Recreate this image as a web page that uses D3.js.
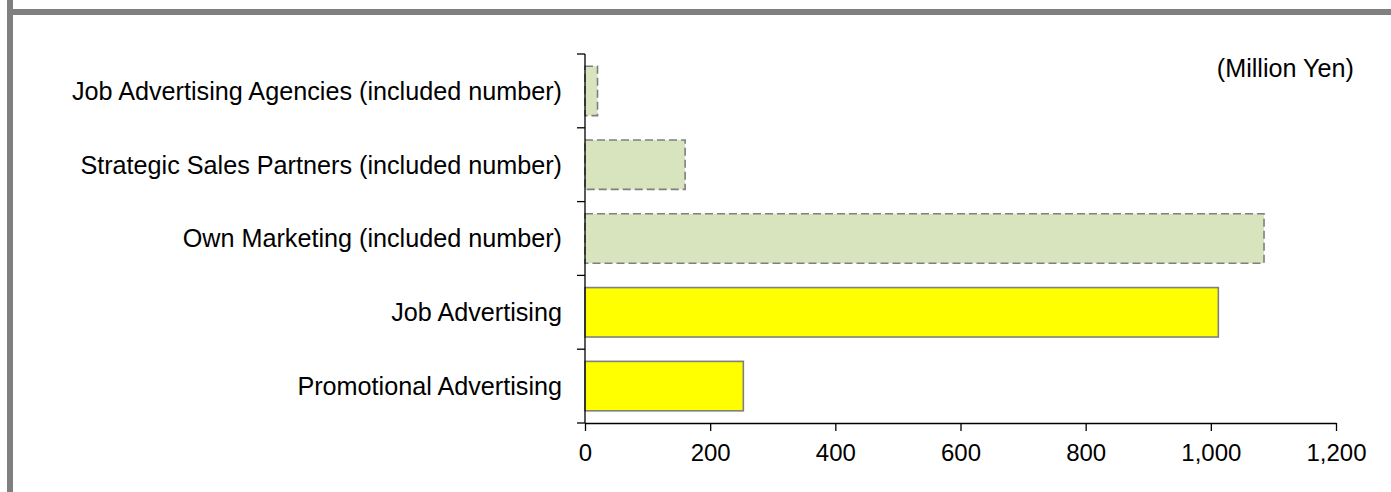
<!DOCTYPE html>
<html>
<head>
<meta charset="utf-8">
<script src="https://cdn.jsdelivr.net/npm/d3@7"></script>
<style>
  body { margin: 0; background: #fff; }
  svg text { font-family: Arial, "Liberation Sans", sans-serif; fill: #000; }
</style>
</head>
<body>
<svg id="chart" width="1391" height="492"></svg>
<script>
// data (million yen)
var categories = [
    'Job Advertising Agencies (included number)',
    'Strategic Sales Partners (included number)',
    'Own Marketing (included number)',
    'Job Advertising',
    'Promotional Advertising'
];
var values = [20, 160, 1085, 1012, 253];
var included = [true, true, true, false, false]; // dashed green = "included number" rows
var xTicks = [0, 200, 400, 600, 800, 1000, 1200];
var unitLabel = '(Million Yen)';

//-------------------------------------------------------------------------------

var svg = d3.select('#chart');
var plot = { left: 585, right: 1336, top: 54, bottom: 423 };
var fontSize = 25.2;

// grey frame, only the top and left edges are inside the window
svg.append('rect').attr('x', 7).attr('y', 0).attr('width', 6).attr('height', 492).attr('fill', '#808080');
svg.append('rect').attr('x', 7).attr('y', 9).attr('width', 1384).attr('height', 6).attr('fill', '#808080');

var x = d3.scaleLinear().domain([0, 1200]).range([plot.left, plot.right]);
var y = d3.scaleBand()
    .domain(categories)
    .range([plot.top, plot.bottom])
    .paddingInner(0.33)
    .paddingOuter(0.165);

var rows = categories.map(function (c, i) {
    return { name: c, value: values[i], inc: included[i] };
});

//-------------------------------------------------------------------------------
// bars

svg.append('g').selectAll('rect')
    .data(rows)
    .join('rect')
    .attr('x', x(0))
    .attr('y', d => y(d.name))
    .attr('width', d => x(d.value) - x(0))
    .attr('height', y.bandwidth())
    .attr('fill', d => d.inc ? '#d7e4bd' : '#ffff00')
    .attr('stroke', '#7f7f7f')
    .attr('stroke-width', 1.6)
    .attr('stroke-dasharray', d => d.inc ? '8,4' : null);

//-------------------------------------------------------------------------------
// x axis, ticks pointing down

var gx = svg.append('g')
    .attr('transform', 'translate(0,' + plot.bottom + ')')
    .call(d3.axisBottom(x).tickValues(xTicks).tickSize(8).tickSizeOuter(0).tickFormat(d3.format(',')));
gx.select('.domain').attr('stroke', '#000').attr('stroke-width', 1.3);
gx.selectAll('.tick line').attr('stroke', '#000').attr('stroke-width', 1.3);
gx.selectAll('.tick text').attr('font-size', 24).attr('dy', null).attr('y', 38);

//-------------------------------------------------------------------------------
// y axis: ticks sit on the band boundaries, labels on the band centres

var gy = svg.append('g');
gy.append('line')
    .attr('x1', plot.left).attr('x2', plot.left)
    .attr('y1', plot.top).attr('y2', plot.bottom)
    .attr('stroke', '#000').attr('stroke-width', 1.3);

var boundaries = d3.range(categories.length + 1).map(i => plot.top + i * y.step());
gy.selectAll('line.tk')
    .data(boundaries)
    .join('line')
    .attr('class', 'tk')
    .attr('x1', plot.left - 8).attr('x2', plot.left)
    .attr('y1', d => d).attr('y2', d => d)
    .attr('stroke', '#000').attr('stroke-width', 1.3);

gy.selectAll('text')
    .data(categories)
    .join('text')
    .attr('x', 562)
    .attr('y', d => y(d) + y.bandwidth() / 2)
    .attr('dy', '0.35em')
    .attr('text-anchor', 'end')
    .attr('font-size', fontSize)
    .text(d => d);

// unit note, top right
svg.append('text')
    .attr('x', 1354)
    .attr('y', 77)
    .attr('text-anchor', 'end')
    .attr('font-size', fontSize)
    .text(unitLabel);
</script>
</body>
</html>
